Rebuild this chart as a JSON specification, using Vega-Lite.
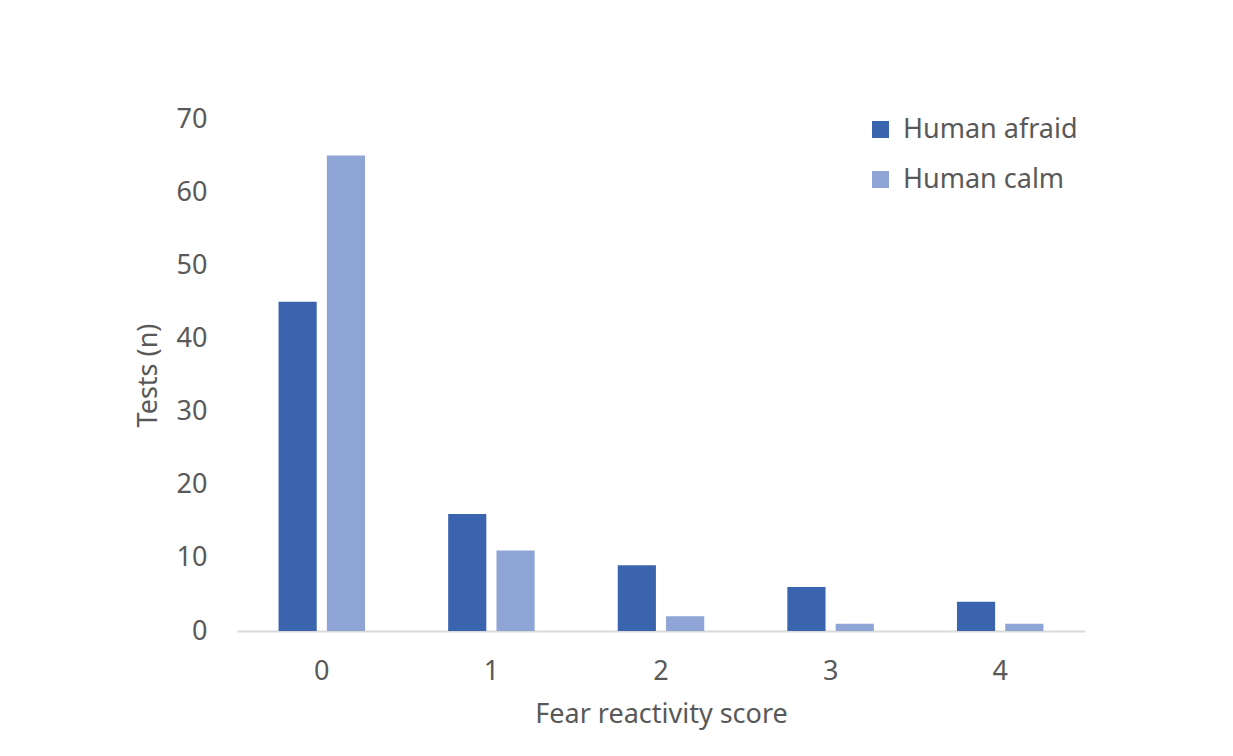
{
  "$schema": "https://vega.github.io/schema/vega-lite/v6.json",
  "width": 848,
  "height": 512,
  "autosize": {"type": "none"},
  "padding": {"left": 237, "top": 119, "right": 148, "bottom": 125},
  "background": "white",
  "config": {
    "font": "Noto Sans",
    "view": {"stroke": null},
    "axis": {"grid": false, "ticks": false, "labelColor": "#595959", "titleColor": "#595959", "labelFontSize": 27, "titleFontSize": 27, "titleFontWeight": "normal", "labelFont": "Noto Sans", "titleFont": "Noto Sans"}
  },
  "data": {
    "values": [
      {"score": "0", "group": "Human afraid", "tests": 45},
      {"score": "0", "group": "Human calm", "tests": 65},
      {"score": "1", "group": "Human afraid", "tests": 16},
      {"score": "1", "group": "Human calm", "tests": 11},
      {"score": "2", "group": "Human afraid", "tests": 9},
      {"score": "2", "group": "Human calm", "tests": 2},
      {"score": "3", "group": "Human afraid", "tests": 6},
      {"score": "3", "group": "Human calm", "tests": 1},
      {"score": "4", "group": "Human afraid", "tests": 4},
      {"score": "4", "group": "Human calm", "tests": 1}
    ]
  },
  "mark": {"type": "bar"},
  "encoding": {
    "x": {
      "field": "score",
      "type": "nominal",
      "title": "Fear reactivity score",
      "scale": {"paddingInner": 0.49, "paddingOuter": 0.245},
      "axis": {"labelAngle": 0, "domainColor": "#D9D9D9", "domainWidth": 2, "labelPadding": 27, "titlePadding": 17}
    },
    "xOffset": {
      "field": "group",
      "scale": {"paddingInner": 0.21}
    },
    "y": {
      "field": "tests",
      "type": "quantitative",
      "title": "Tests (n)",
      "scale": {"domain": [0, 70]},
      "axis": {"values": [0, 10, 20, 30, 40, 50, 60, 70], "domain": false, "labelPadding": 30, "titlePadding": 14}
    },
    "color": {
      "field": "group",
      "type": "nominal",
      "title": null,
      "scale": {"domain": ["Human afraid", "Human calm"], "range": ["#3A64AD", "#8FA5D5"]},
      "legend": {
        "orient": "none",
        "legendX": 630,
        "legendY": -3,
        "symbolType": "square",
        "symbolSize": 289,
        "symbolStrokeWidth": 0,
        "labelFontSize": 27,
        "labelColor": "#595959",
        "labelFont": "Noto Sans",
        "labelLimit": 400,
        "labelOffset": 9,
        "rowPadding": 22
      }
    }
  }
}
